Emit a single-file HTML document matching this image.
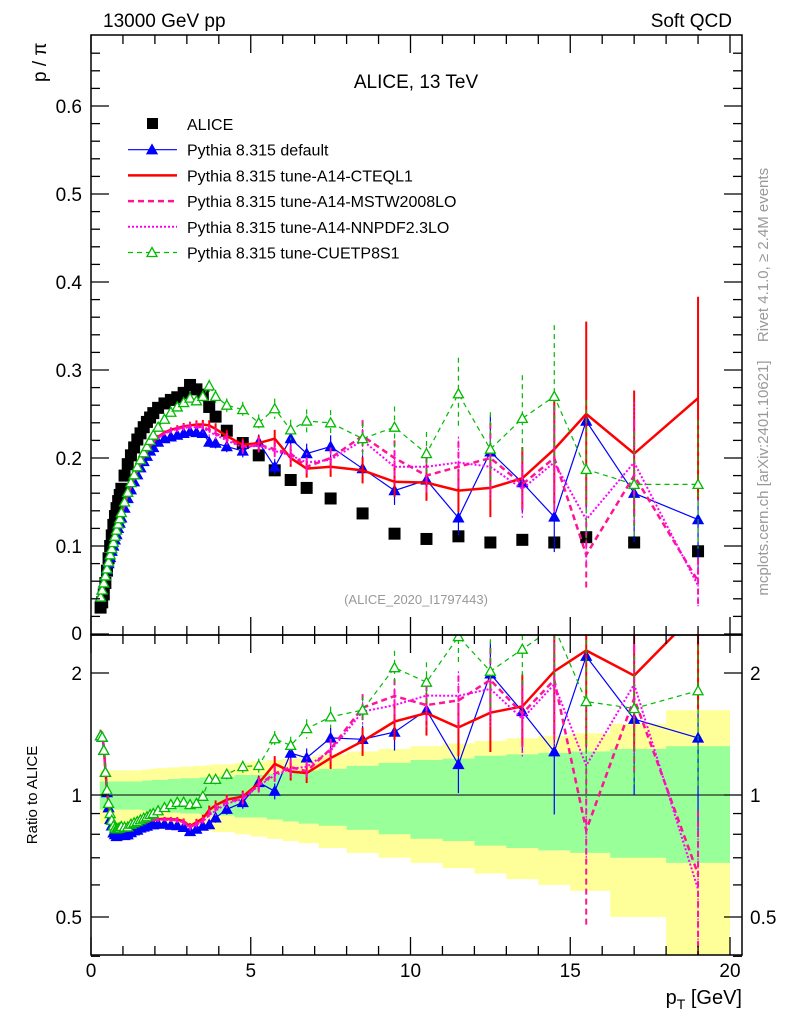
<!DOCTYPE html>
<html><head><meta charset="utf-8"><style>
html,body{margin:0;padding:0;background:#fff}
svg text{font-family:"Liberation Sans",sans-serif}
</style></head><body>
<svg id="c" width="786" height="1024" viewBox="0 0 786 1024" xmlns="http://www.w3.org/2000/svg">
<defs>
<clipPath id="cm"><rect x="91" y="35" width="651" height="600"/></clipPath>
<clipPath id="cr"><rect x="91" y="635" width="651" height="320"/></clipPath>
</defs>
<g id="bands" clip-path="url(#cr)"></g>
<g id="mainMarks" clip-path="url(#cm)"></g>
<g id="ratioMarks" clip-path="url(#cr)"></g>
<g id="axes"></g>
<text x="103" y="27" font-size="19">13000 GeV pp</text>
<text x="732" y="27" font-size="19" text-anchor="end">Soft QCD</text>
<text x="416" y="88" font-size="19" text-anchor="middle">ALICE, 13 TeV</text>
<text x="416" y="604" font-size="13" fill="#999" text-anchor="middle">(ALICE_2020_I1797443)</text>
<text transform="translate(768,255) rotate(-90)" font-size="15" fill="#999" text-anchor="middle">Rivet 4.1.0, ≥ 2.4M events</text>
<text transform="translate(768,478) rotate(-90)" font-size="15" fill="#999" text-anchor="middle">mcplots.cern.ch [arXiv:2401.10621]</text>
<text transform="translate(46,82) rotate(-90)" font-size="19" text-anchor="start">p / π</text>
<text transform="translate(37,795) rotate(-90)" font-size="15" text-anchor="middle">Ratio to ALICE</text>
<text x="742" y="1004" font-size="20" text-anchor="end">p<tspan font-size="14" dy="5">T</tspan><tspan dy="-5"> [GeV]</tspan></text>
<g id="legend"></g>
</svg>
<script>
const pT=[0.3,0.35,0.4,0.45,0.5,0.55,0.6,0.65,0.7,0.75,0.8,0.85,0.9,0.95,1.05,1.15,1.25,1.35,1.45,1.55,1.65,1.75,1.85,1.95,2.1,2.3,2.5,2.7,2.9,3.1,3.3,3.5,3.7,3.9,4.25,4.75,5.25,5.75,6.25,6.75,7.5,8.5,9.5,10.5,11.5,12.5,13.5,14.5,15.5,17,19];
const alice=[0.03,0.036,0.045,0.058,0.072,0.086,0.1,0.112,0.124,0.134,0.143,0.151,0.158,0.165,0.18,0.193,0.203,0.212,0.221,0.228,0.235,0.241,0.246,0.251,0.257,0.262,0.266,0.269,0.274,0.283,0.278,0.272,0.258,0.247,0.231,0.217,0.203,0.186,0.175,0.166,0.154,0.137,0.114,0.108,0.111,0.104,0.107,0.104,0.11,0.104,0.094];
const pyDefault=[0.042,0.05,0.058,0.066,0.073,0.08,0.087,0.094,0.1,0.107,0.113,0.12,0.126,0.132,0.143,0.154,0.164,0.173,0.181,0.189,0.196,0.202,0.208,0.212,0.218,0.222,0.224,0.226,0.228,0.23,0.229,0.228,0.218,0.217,0.213,0.208,0.218,0.19,0.222,0.205,0.213,0.188,0.163,0.175,0.132,0.207,0.172,0.133,0.242,0.16,0.13];
const pyCTEQ=[0.043,0.051,0.059,0.067,0.074,0.082,0.089,0.096,0.103,0.11,0.117,0.123,0.129,0.135,0.147,0.158,0.168,0.177,0.186,0.194,0.201,0.207,0.213,0.218,0.224,0.229,0.232,0.234,0.236,0.237,0.238,0.238,0.237,0.233,0.225,0.215,0.217,0.222,0.2,0.188,0.19,0.186,0.173,0.172,0.163,0.166,0.177,0.21,0.25,0.205,0.268];
const pyMSTW=[0.043,0.051,0.059,0.067,0.074,0.082,0.089,0.096,0.103,0.11,0.117,0.123,0.129,0.135,0.147,0.158,0.168,0.177,0.186,0.194,0.201,0.207,0.213,0.218,0.223,0.228,0.231,0.233,0.235,0.236,0.236,0.235,0.232,0.228,0.222,0.213,0.215,0.21,0.205,0.19,0.2,0.225,0.2,0.18,0.19,0.2,0.17,0.2,0.09,0.18,0.06];
const pyNNPDF=[0.043,0.051,0.059,0.067,0.074,0.082,0.089,0.096,0.103,0.11,0.117,0.123,0.129,0.135,0.147,0.158,0.168,0.177,0.186,0.194,0.201,0.207,0.213,0.218,0.223,0.228,0.231,0.233,0.234,0.235,0.235,0.234,0.23,0.226,0.22,0.212,0.214,0.208,0.203,0.195,0.198,0.22,0.19,0.19,0.195,0.19,0.165,0.195,0.13,0.195,0.055];
const pyCUETP=[0.042,0.05,0.058,0.066,0.074,0.082,0.09,0.097,0.104,0.111,0.118,0.125,0.131,0.138,0.15,0.161,0.172,0.181,0.19,0.198,0.206,0.213,0.22,0.226,0.235,0.244,0.252,0.258,0.263,0.268,0.265,0.27,0.282,0.27,0.26,0.255,0.24,0.256,0.232,0.242,0.24,0.222,0.235,0.205,0.273,0.21,0.245,0.27,0.187,0.17,0.17];
const mcRelErr=[0.01,0.01,0.01,0.01,0.01,0.01,0.01,0.01,0.01,0.01,0.01,0.01,0.01,0.01,0.01,0.01,0.01,0.01,0.01,0.01,0.01,0.01,0.01,0.01,0.01,0.01,0.012,0.014,0.016,0.018,0.02,0.022,0.025,0.028,0.03,0.035,0.04,0.045,0.05,0.055,0.06,0.08,0.1,0.12,0.15,0.2,0.2,0.3,0.42,0.35,0.43];
const bandStat=[0.08,0.08,0.08,0.08,0.08,0.08,0.08,0.08,0.08,0.08,0.08,0.08,0.08,0.08,0.08,0.08,0.08,0.08,0.08,0.08,0.085,0.085,0.085,0.09,0.09,0.09,0.095,0.095,0.1,0.1,0.1,0.105,0.105,0.11,0.11,0.12,0.12,0.13,0.14,0.15,0.16,0.18,0.2,0.22,0.23,0.25,0.26,0.27,0.28,0.3,0.32];
const bandTot=[0.15,0.15,0.15,0.15,0.15,0.15,0.15,0.15,0.15,0.15,0.15,0.15,0.15,0.15,0.15,0.15,0.15,0.15,0.15,0.15,0.155,0.155,0.16,0.16,0.165,0.165,0.17,0.17,0.175,0.175,0.18,0.18,0.185,0.19,0.19,0.2,0.21,0.22,0.23,0.24,0.26,0.28,0.3,0.32,0.34,0.36,0.38,0.4,0.42,0.5,0.62];
const mainTicks=[0.1,0.2,0.3,0.4,0.5,0.6];
const ratioTicks=[0.5,1,2];
const xTicks=[0,5,10,15,20];

const NS="http://www.w3.org/2000/svg";
const X=v=>91+v*31.95, Y=v=>634-v*880, R=v=>795-122*Math.log2(Math.max(v,1e-3));
function mk(parent,tag,attrs){const e=document.createElementNS(NS,tag);for(const k in attrs)e.setAttribute(k,attrs[k]);parent.appendChild(e);return e;}
const gB=document.getElementById('bands'),gM=document.getElementById('mainMarks'),gR=document.getElementById('ratioMarks'),gA=document.getElementById('axes'),gL=document.getElementById('legend');
const edges=[];for(let i=0;i<=pT.length;i++){if(i==0)edges.push(pT[0]-(pT[1]-pT[0])/2);else if(i==pT.length)edges.push(20);else edges.push((pT[i-1]+pT[i])/2);}
function bandPath(rel){let up='',dn='';for(let i=0;i<pT.length;i++){up+=(i?'L':'M')+X(edges[i])+','+R(1+rel[i])+'L'+X(edges[i+1])+','+R(1+rel[i]);}for(let i=pT.length-1;i>=0;i--){dn+='L'+X(edges[i+1])+','+R(1-rel[i])+'L'+X(edges[i])+','+R(1-rel[i]);}return up+dn+'Z';}
let p=mk(gB,'path',{d:bandPath(bandTot),fill:'#ffff99'});


p=mk(gB,'path',{d:bandPath(bandStat),fill:'#99ff99'});


p=mk(gB,'line',{x1:91,x2:742,y1:R(1),y2:R(1),stroke:'#000','stroke-width':1});



const series=[
 {name:'pythia-default',vals:pyDefault,color:'#0000ff',w:1.2,dash:'',marker:'tri',fill:'#0000ff'},
 {name:'pythia-cteql1',vals:pyCTEQ,color:'#ff0000',w:2.5,dash:'',marker:null},
 {name:'pythia-mstw2008lo',vals:pyMSTW,color:'#ff1493',w:2.5,dash:'6,4',marker:null},
 {name:'pythia-nnpdf23lo',vals:pyNNPDF,color:'#ff00ff',w:2,dash:'2,2',marker:null},
 {name:'pythia-cuetp8s1',vals:pyCUETP,color:'#00bb00',w:1.2,dash:'5,4',marker:'tri',fill:'#fff'}
];
function tri(g,x,y,s){const h=5;return mk(g,'path',{d:`M${x},${y-h}L${x+h},${y+h*0.8}L${x-h},${y+h*0.8}Z`,fill:s.fill,stroke:s.color,'stroke-width':1.3});}
function drawSeries(g,s,yf,valsFn,pref){
  const grp=mk(g,'g',{});
  
  
  const pts=pT.map((x,i)=>[X(x),yf(valsFn(i))]);
  for(let i=0;i<pT.length;i++){const v=valsFn(i),e=v*mcRelErr[i];
    const eb=mk(grp,'line',{x1:pts[i][0],x2:pts[i][0],y1:yf(v+e),y2:yf(Math.max(v-e,1e-3)),stroke:s.color,'stroke-width':s.w>2?2:1.2,'stroke-dasharray':s.dash});
    
    }
  const ln=mk(grp,'polyline',{points:pts.map(q=>q.join(',')).join(' '),fill:'none',stroke:s.color,'stroke-width':s.w,'stroke-dasharray':s.dash});
  
  
  if(s.marker){for(const q of pts){const m=tri(grp,q[0],q[1],s);
    
    }}
}
const ga=mk(gM,'g',{});


for(let i=0;i<pT.length;i++){const r=mk(ga,'rect',{x:X(pT[i])-6,y:Y(alice[i])-6,width:12,height:12,fill:'#000'});
 
 }
for(const s of series){drawSeries(gM,s,Y,i=>s.vals[i],'main-');drawSeries(gR,s,R,i=>s.vals[i]/alice[i],'ratio-');}

function line(x1,y1,x2,y2,w){return mk(gA,'line',{x1,y1,x2,y2,stroke:'#000','stroke-width':w||1});}
let f=mk(gA,'rect',{x:91,y:35,width:651,height:600,fill:'none',stroke:'#000','stroke-width':1.5});

f=mk(gA,'rect',{x:91,y:635,width:651,height:320,fill:'none',stroke:'#000','stroke-width':1.5});

for(let v=0;v<=0.68;v+=0.02){const y=Y(v);const maj=Math.abs(v*10-Math.round(v*10))<1e-6;const l=maj?18:9;line(91,y,91+l,y,1.3);line(742,y,742-l,y,1.3);}
for(const t of mainTicks){const tx=mk(gA,'text',{x:82,y:Y(t)+7,'font-size':19,'text-anchor':'end'});tx.textContent=t.toFixed(1);
 }
let z=mk(gA,'text',{x:82,y:640,'font-size':19,'text-anchor':'end'});z.textContent='0';
for(const v of [0.4,0.5,0.6,0.7,0.8,0.9,1,2]){const y=R(v);const maj=ratioTicks.includes(v);const l=maj?18:9;line(91,y,91+l,y,1.3);line(742,y,742-l,y,1.3);}
for(const t of ratioTicks){const a=mk(gA,'text',{x:82,y:R(t)+7,'font-size':19,'text-anchor':'end'});a.textContent=String(t);
 
 const b=mk(gA,'text',{x:750,y:R(t)+7,'font-size':19});b.textContent=String(t);
 }
for(let v=0;v<=20;v++){const x=X(v);const maj=v%5==0;const l=maj?18:9;line(x,635,x,635-l,1.3);line(x,955,x,955-l,1.3);line(x,35,x,35+l,1.3);line(x,635,x,635+l,1.3);}
for(const t of xTicks){const a=mk(gA,'text',{x:X(t),y:977,'font-size':19,'text-anchor':'middle'});a.textContent=String(t);
 }
const leg=[['ALICE','sq'],['Pythia 8.315 default',series[0]],['Pythia 8.315 tune-A14-CTEQL1',series[1]],['Pythia 8.315 tune-A14-MSTW2008LO',series[2]],['Pythia 8.315 tune-A14-NNPDF2.3LO',series[3]],['Pythia 8.315 tune-CUETP8S1',series[4]]];
leg.forEach((e,i)=>{const y=124+i*25.7;const g=mk(gL,'g',{});
 
 if(e[1]=='sq'){mk(g,'rect',{x:147,y:y-6,width:11,height:11,fill:'#000'});}
 else{const s=e[1];mk(g,'line',{x1:128,x2:177,y1:y,y2:y,stroke:s.color,'stroke-width':s.w,'stroke-dasharray':s.dash});
  if(s.marker)tri(g,152,y,s);}
 const t=mk(g,'text',{x:187,y:y+6,'font-size':16});t.textContent=e[0];});
</script>
</body></html>
